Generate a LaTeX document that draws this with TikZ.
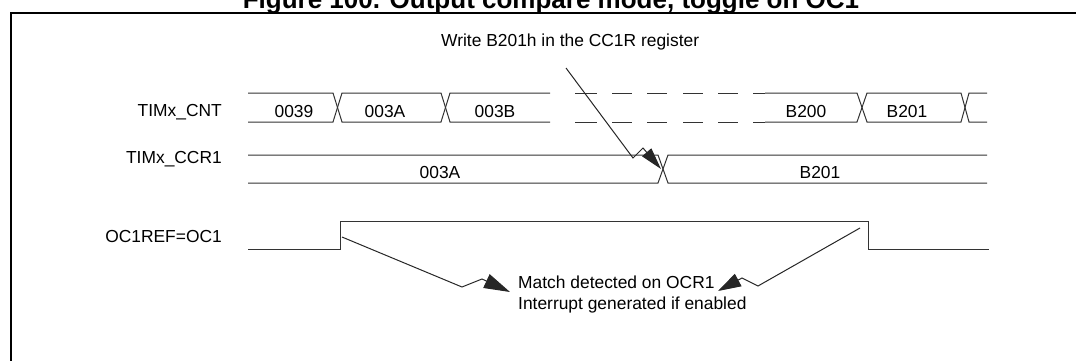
\documentclass[tikz,border=0pt]{standalone}
\usepackage{fontspec}
\setmainfont{Liberation Sans}
\usetikzlibrary{arrows.meta}
\begin{document}
\begin{tikzpicture}[x=1pt,y=-1pt,
  wave/.style={line width=1pt, black!80},
  txt/.style={inner sep=0pt, font=\fontsize{17.4}{21}\selectfont},
  conn/.style={line width=1pt, black!85},
]
\useasboundingbox (0,0) rectangle (1076,361);
\clip (0,0) rectangle (1076,361);
% title (cut at top) and frame
\node[anchor=base, inner sep=0pt, font=\bfseries\fontsize{26}{30}\selectfont] (title) at (551,9) {Figure 100. Output compare mode, toggle on OC1};
\draw[line width=2pt] (11,370) -- (11,13) -- (1090,13);

% signal names
\node[txt, anchor=base east] (lcnt) at (222,116) {TIMx\_CNT};
\node[txt, anchor=base east] (lccr) at (222,163) {TIMx\_CCR1};
\node[txt, anchor=base east] (loc) at (222,242) {OC1REF=OC1};

% TIMx_CNT bus
\draw[wave] (248,93) -- (333,93) -- (342,122) -- (441,122) -- (450,93) -- (550,93);
\draw[wave] (248,122) -- (333,122) -- (342,93) -- (441,93) -- (450,122) -- (550,122);
\foreach \a/\b in {575/597,612/632,647/667,683/703,718/738,753/765} {
  \draw[wave] (\a,93) -- (\b,93);
  \draw[wave] (\a,122) -- (\b,122);
}
\draw[wave] (765,93) -- (857,93) -- (867,122) -- (961,122) -- (969,93) -- (987,93);
\draw[wave] (765,122) -- (857,122) -- (867,93) -- (961,93) -- (969,122) -- (987,122);
\node[txt, anchor=base] (v1) at (294,117) {0039};
\node[txt, anchor=base] (v2) at (385,117) {003A};
\node[txt, anchor=base] (v3) at (495,117) {003B};
\node[txt, anchor=base] (v4) at (806,117) {B200};
\node[txt, anchor=base] (v5) at (907,117) {B201};

% TIMx_CCR1 bus
\draw[wave] (248,155) -- (658,155) -- (668,183) -- (987,183);
\draw[wave] (248,183) -- (658,183) -- (668,155) -- (987,155);
\node[txt, anchor=base] (c1) at (440,178) {003A};
\node[txt, anchor=base] (c2) at (820,178) {B201};

% OC1REF
\draw[wave] (248,249) -- (340,249) -- (340,221) -- (868,221) -- (868,249) -- (989,249);

% annotations
\node[txt, anchor=base west] (write) at (441,47) {Write B201h in the CC1R register};
\node[txt, anchor=base west, align=left] (match) at (518,309) {Match detected on OCR1\\Interrupt generated if enabled};

% lightning arrows
\coordinate (w0) at (566,68);
\coordinate (w1) at (633,158);
\coordinate (w2) at (643,148);
\coordinate (wt) at (661,169);
\draw[conn, -{Triangle[length=22pt,width=12pt]}] (w0) -- (w1) -- (w2) -- (wt);

\coordinate (m0) at (342,237);
\coordinate (m1) at (462,287);
\coordinate (m2) at (482,279);
\coordinate (mt) at (510,292);
\draw[conn, -{Triangle[length=26pt,width=15pt]}] (m0) -- (m1) -- (m2) -- (mt);

\coordinate (r0) at (860,228);
\coordinate (r1) at (758,286);
\coordinate (r2) at (742,278);
\coordinate (rt) at (718,291);
\draw[conn, -{Triangle[length=23pt,width=14pt]}] (r0) -- (r1) -- (r2) -- (rt);
\end{tikzpicture}
\end{document}
